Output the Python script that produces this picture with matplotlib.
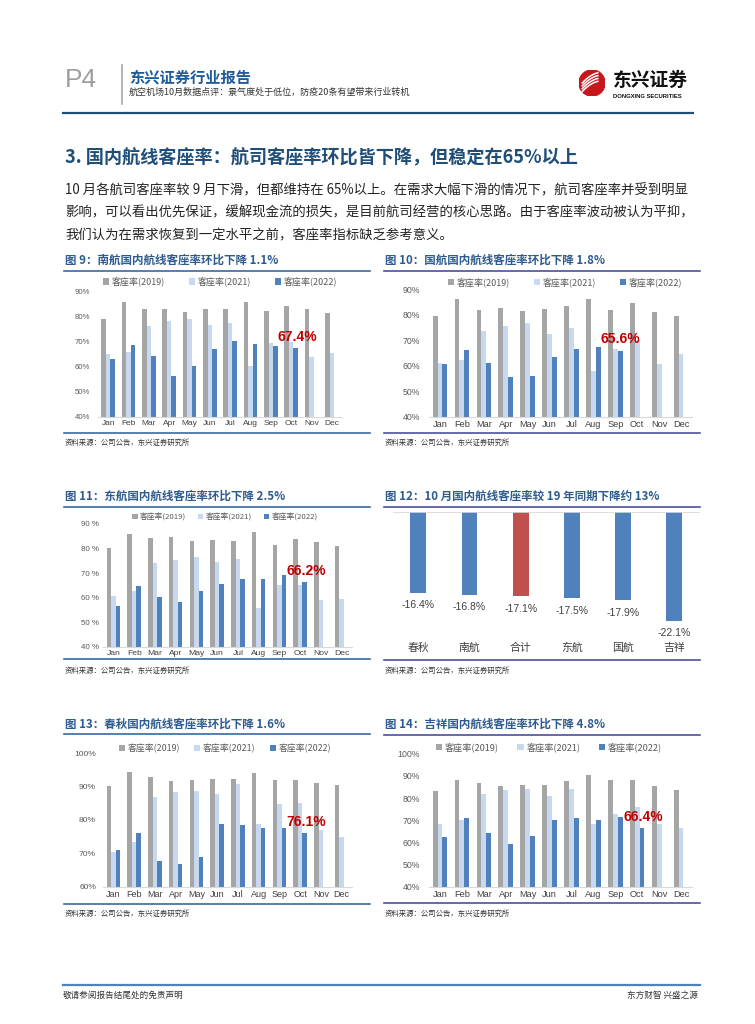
import numpy as np
import matplotlib
matplotlib.use('Agg')
import matplotlib.pyplot as plt
from matplotlib.lines import Line2D
from matplotlib.patches import Circle

plt.rcParams['font.family'] = ['Noto Sans CJK SC', 'DejaVu Sans']

# Data (load factor, %)
months = ['Jan', 'Feb', 'Mar', 'Apr', 'May', 'Jun', 'Jul', 'Aug', 'Sep', 'Oct', 'Nov', 'Dec']
legend_labels = ['客座率(2019)', '客座率(2021)', '客座率(2022)']

# China Southern
nh_2019 = [79.1, 85.7, 83.1, 83.1, 81.9, 83.1, 83.1, 86.0, 82.3, 84.1, 83.1, 81.5]
nh_2021 = [65.1, 65.9, 76.1, 78.1, 79.1, 76.5, 77.3, 60.3, 69.3, 70.0, 63.9, 65.5]
nh_2022 = [63.2, 68.5, 64.4, 56.4, 60.1, 67.1, 70.1, 68.9, 68.1, 67.4]

# Air China
gh_2019 = [79.7, 86.3, 81.8, 82.5, 81.5, 82.1, 83.3, 86.3, 81.8, 84.5, 81.1, 79.5]
gh_2021 = [61.2, 62.4, 73.6, 75.5, 76.6, 72.5, 74.8, 57.9, 66.6, 70.1, 60.7, 64.6]
gh_2022 = [60.5, 66.2, 60.9, 55.4, 56.1, 63.4, 66.6, 67.4, 65.6]

# China Eastern
dh_2019 = [80.4, 85.8, 84.2, 84.8, 82.9, 83.3, 82.9, 86.6, 81.4, 83.9, 82.7, 81.2]
dh_2021 = [60.7, 62.7, 74.1, 75.3, 76.5, 74.5, 75.7, 55.8, 65.1, 65.1, 59.0, 59.4]
dh_2022 = [56.6, 64.9, 60.2, 58.2, 62.6, 65.7, 67.6, 67.6, 69.2, 66.2]

# Spring
cq_2019 = [90.2, 94.4, 92.9, 91.6, 92.1, 92.3, 92.3, 94.1, 92.1, 92.1, 91.2, 90.4]
cq_2021 = [70.4, 73.3, 86.9, 88.4, 88.7, 87.8, 90.7, 78.8, 84.7, 85.0, 77.0, 75.0]
cq_2022 = [71.0, 76.1, 67.8, 66.8, 69.0, 78.7, 78.4, 77.6, 77.6, 76.1]

# Juneyao
jx_2019 = [83.2, 88.3, 86.9, 85.3, 86.0, 86.0, 87.8, 90.4, 88.3, 88.3, 85.3, 83.6]
jx_2021 = [68.1, 70.2, 81.8, 83.6, 83.9, 80.9, 83.9, 68.1, 72.8, 75.8, 68.1, 66.5]
jx_2022 = [62.6, 71.1, 64.2, 59.1, 62.9, 70.2, 71.1, 70.2, 71.4, 66.4]

# October vs 2019
airlines = ['春秋', '南航', '合计', '东航', '国航', '吉祥']
oct_vs_2019 = [-16.4, -16.8, -17.1, -17.5, -17.9, -22.1]

para_lines = [
    '10 月各航司客座率较 9 月下滑，但都维持在 65%以上。在需求大幅下滑的情况下，航司客座率并受到明显',
    '影响，可以看出优先保证，缓解现金流的损失，是目前航司经营的核心思路。由于客座率波动被认为平抑，',
    '我们认为在需求恢复到一定水平之前，客座率指标缺乏参考意义。',
]
source = '资料来源：公司公告，东兴证券研究所'

C19, C21, C22 = '#A5A5A5', '#C6D9F1', '#4F81BD'
RED = '#C00000'
BW = 0.22
W, H = 755, 1024

fig = plt.figure(figsize=(W / 100, H / 100), dpi=100)


def fx(x):
    return x / W


def fy(y):
    return 1 - y / H


def add_ax(l, t, r, b):
    return fig.add_axes([fx(l), fy(b), (r - l) / W, (b - t) / H])


def hline(x0, x1, y, color, lw):
    fig.add_artist(Line2D([fx(x0), fx(x1)], [fy(y), fy(y)], color=color, lw=lw))


def ftext(x, y, s, **kw):
    kw.setdefault('va', 'center')
    fig.text(fx(x), fy(y), s, **kw)


def month_chart(box, s19, s21, s22, ylo, yhi, fmt, fs, ypad, lfs, leg_xy, colsp, note, note_xy):
    ax = add_ax(*box)
    x = np.arange(len(months))
    ax.bar(x - BW, s19, BW, color=C19, label=legend_labels[0])
    ax.bar(x, s21, BW, color=C21, label=legend_labels[1])
    ax.bar(np.arange(len(s22)) + BW, s22, BW, color=C22, label=legend_labels[2])
    ax.set_xlim(-0.5, 11.5)
    ax.set_ylim(ylo, yhi)
    ticks = np.arange(ylo, yhi + 1, 10)
    ax.set_yticks(ticks)
    ax.set_yticklabels([fmt % t for t in ticks], fontsize=fs, color='#595959', family='Liberation Sans')
    ax.set_xticks(x)
    ax.set_xticklabels(months, fontsize=fs + 0.4, color='#404040', family='Liberation Sans')
    ax.tick_params(axis='x', length=0, pad=2.5)
    ax.tick_params(axis='y', length=0, pad=ypad)
    for s in ['top', 'right', 'left']:
        ax.spines[s].set_visible(False)
    ax.spines['bottom'].set_color('#D9D9D9')
    ax.legend(loc='center', bbox_to_anchor=(fx(leg_xy[0]), fy(leg_xy[1])), bbox_transform=fig.transFigure,
              ncol=3, frameon=False, fontsize=lfs, handlelength=0.7, handleheight=0.7,
              handletextpad=0.3, columnspacing=colsp, labelcolor='#595959')
    ax.text(note_xy[0], note_xy[1], note, color=RED, fontsize=10, fontweight='bold',
            ha='center', va='center', family='Liberation Sans')
    return ax


def chart_frame(x0, x1, title, ty, uy, by, sy, color):
    ftext(x0 + 1, ty, title, fontsize=8.3, fontweight='bold', color='#2E5B8E')
    hline(x0, x1, uy, color, 1.2)
    hline(x0, x1, by, color, 1.2)
    ftext(x0 + 1, sy, source, fontsize=5.3, color='#333333')


# Header
ftext(65, 80, 'P4', fontsize=19, color='#9E9E9E', family='Liberation Sans')
fig.add_artist(Line2D([fx(122), fx(122)], [fy(65), fy(104)], color='#A6A6A6', lw=1.2))
ftext(129, 78, '东兴证券行业报告', fontsize=11, fontweight='bold', color='#1F5C99')
ftext(129, 92, '航空机场10月数据点评：景气度处于低位，防疫20条有望带来行业转机', fontsize=6.5, color='#333333')
hline(63, 693, 113, '#1F4E79', 1.6)

logo = add_ax(579, 70, 605, 96)
logo.set_xlim(-1, 1)
logo.set_ylim(-1, 1)
logo.set_aspect('equal')
logo.axis('off')
logo.add_patch(Circle((0, 0), 1, color='#C8161D'))
for k in range(4):
    t = np.linspace(-0.75, 0.45, 20)
    logo.plot(t, 0.55 * t - 0.05 + 0.22 * k - 0.35 * t ** 2, color='white', lw=1.1)
ftext(613, 80, '东兴证券', fontsize=13.5, fontweight='bold', color='#111111')
ftext(613, 96, 'DONGXING SECURITIES', fontsize=4.2, fontweight='bold', color='#111111',
      family='Liberation Sans')

# Section title and paragraph
ftext(65, 158, '3. 国内航线客座率：航司客座率环比皆下降，但稳定在65%以上', fontsize=13.1,
      fontweight='bold', color='#1F4E79')
for i, line in enumerate(para_lines):
    ftext(65, 190 + i * 22.5, line, fontsize=9.6, color='#222222')

# Figure 9
chart_frame(64, 370, '图 9：南航国内航线客座率环比下降 1.1%', 260, 270.5, 432.7, 443.3, '#3B6AA0')
month_chart((98, 291.7, 342, 416.7), nh_2019, nh_2021, nh_2022, 40, 90, '%d%%', 5.6, 5.5,
            6.5, (220, 281.7), 2.6, '67.4%', (9.3, 71.8))

# Figure 10
chart_frame(384, 700, '图 10：国航国内航线客座率环比下降 1.8%', 260, 270.5, 433, 443.3, '#4B50A0')
month_chart((429, 289.3, 692, 416.7), gh_2019, gh_2021, gh_2022, 40, 90, '%d%%', 6.3, 6.5,
            6.5, (565, 282.3), 2.6, '65.6%', (8.25, 70.4))

# Figure 11
chart_frame(64, 370, '图 11：东航国内航线客座率环比下降 2.5%', 496.7, 506.7, 659.3, 670.7, '#3B6AA0')
month_chart((103, 524, 352, 646.7), dh_2019, dh_2021, dh_2022, 40, 90, '%d %%', 5.7, 3,
            5.6, (225, 517.3), 1.5, '66.2%', (9.28, 70.8))

# Figure 12
chart_frame(384, 700, '图 12：10 月国内航线客座率较 19 年同期下降约 13%', 496.7, 506.7, 660, 670.7, '#4B50A0')
ax = add_ax(392.7, 512.3, 700, 640)
xc = np.arange(len(airlines))
bar_colors = ['#C0504D' if a == '合计' else '#4F81BD' for a in airlines]
ax.bar(xc, oct_vs_2019, 0.31, color=bar_colors)
ax.axhline(0, color='#D9D9D9', lw=1.2)
ax.set_xlim(-0.5, 5.5)
ax.set_ylim(-25.95, 0)
for i, v in enumerate(oct_vs_2019):
    ax.text(i, v - 2.5, '%.1f%%' % v, ha='center', va='center', fontsize=7.5,
            color='#404040', family='Liberation Sans')
ax.set_xticks(xc)
ax.set_xticklabels(airlines, fontsize=7.8, color='#404040')
ax.set_yticks([])
ax.tick_params(axis='x', length=0, pad=2)
for s in ax.spines.values():
    s.set_visible(False)

# Figure 13
chart_frame(64, 370, '图 13：春秋国内航线客座率环比下降 1.6%', 724, 734, 904.3, 914, '#3B6AA0')
month_chart((103, 753.3, 352, 886.7), cq_2019, cq_2021, cq_2022, 60, 100, '%d%%', 6.1, 5,
            6.4, (225, 748.3), 1.6, '76.1%', (9.28, 79.3))

# Figure 14
chart_frame(384, 700, '图 14：吉祥国内航线客座率环比下降 4.8%', 724, 735, 903.3, 914, '#4B50A0')
month_chart((429, 753.7, 692, 886.7), jx_2019, jx_2021, jx_2022, 40, 100, '%d%%', 6.3, 6.5,
            6.6, (549, 747.3), 2.0, '66.4%', (9.28, 71.6))

# Footer
hline(63, 700, 985, '#4F81BD', 1.6)
ftext(63, 995, '敬请参阅报告结尾处的免责声明', fontsize=6.2, color='#333333')
ftext(698, 995, '东方财智 兴盛之源', fontsize=6.2, color='#333333', ha='right')

fig.savefig('out.png', dpi=100)
